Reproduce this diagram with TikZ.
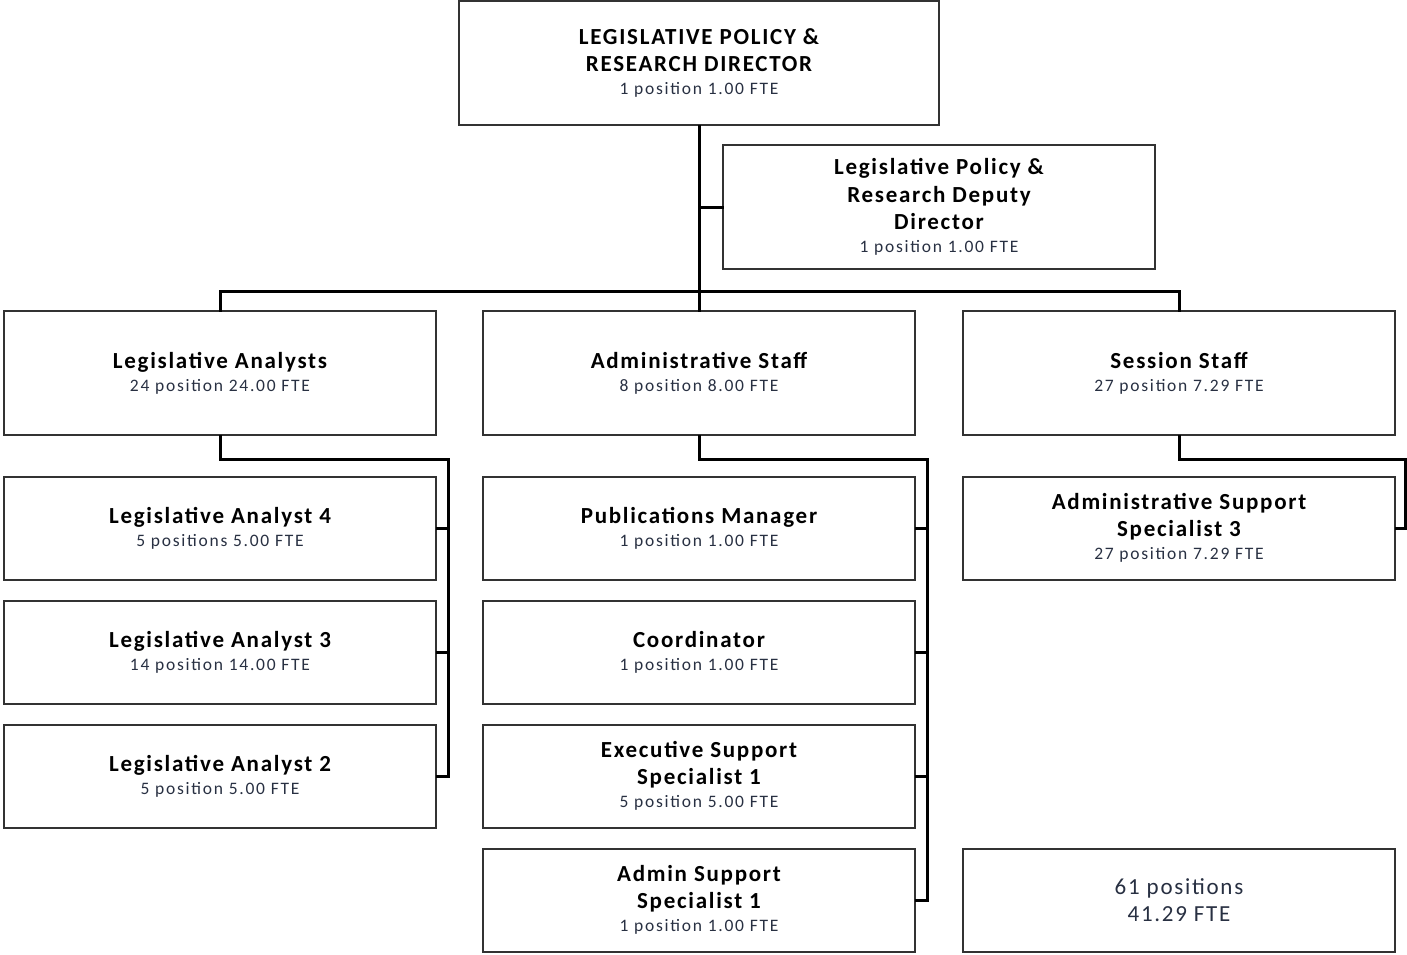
\documentclass[tikz,border=0pt]{standalone}
\usepackage{fontspec}
\setmainfont{Carlito}[LetterSpace=7.5]
\definecolor{subcol}{RGB}{40,48,66}
\definecolor{boxcol}{RGB}{50,50,50}
\tikzset{
  box/.style={draw=boxcol, line width=2pt, fill=white, inner sep=0pt, align=center,
    minimum width=432pt, minimum height=124pt, font=\fontsize{23}{27.5}\selectfont},
  sbox/.style={box, minimum height=103pt},
  conn/.style={draw=black, line width=3pt, line cap=rect},
}
\newcommand{\ttl}[1]{{\bfseries #1}}
\newcommand{\sub}[1]{\\[-4.5pt]{\fontsize{17.5}{24}\selectfont\addfontfeature{LetterSpace=10}\color{subcol}#1}}
\begin{document}
\begin{tikzpicture}[x=1pt,y=-1pt]
\useasboundingbox (0,0) rectangle (1407,954);
\coordinate (bar) at (699,291);
\coordinate (laR) at (448,459);
\coordinate (asR) at (927,459);
\coordinate (ssR) at (1405,459);
\node[box, minimum width=480pt] (dir) at (699,63) {\ttl{LEGISLATIVE POLICY \&}\\\ttl{RESEARCH DIRECTOR}\sub{1 position 1.00 FTE}};
\node[box] (dep) at (939,207) {\ttl{Legislative Policy \&}\\\ttl{Research Deputy}\\\ttl{Director}\sub{1 position 1.00 FTE}};
\node[box] (la) at (220,373) {\ttl{Legislative Analysts}\sub{24 position 24.00 FTE}};
\node[box] (as) at (699,373) {\ttl{Administrative Staff}\sub{8 position 8.00 FTE}};
\node[box] (ss) at (1179,373) {\ttl{Session Staff}\sub{27 position 7.29 FTE}};
\node[sbox] (la4) at (220,528) {\ttl{Legislative Analyst 4}\sub{5 positions 5.00 FTE}};
\node[sbox] (la3) at (220,652) {\ttl{Legislative Analyst 3}\sub{14 position 14.00 FTE}};
\node[sbox] (la2) at (220,776) {\ttl{Legislative Analyst 2}\sub{5 position 5.00 FTE}};
\node[sbox] (pm) at (699,528) {\ttl{Publications Manager}\sub{1 position 1.00 FTE}};
\node[sbox] (co) at (699,652) {\ttl{Coordinator}\sub{1 position 1.00 FTE}};
\node[sbox] (es) at (699,776) {\ttl{Executive Support}\\\ttl{Specialist 1}\sub{5 position 5.00 FTE}};
\node[sbox] (ad) at (699,900) {\ttl{Admin Support}\\\ttl{Specialist 1}\sub{1 position 1.00 FTE}};
\node[sbox] (ass) at (1179,528) {\ttl{Administrative Support}\\\ttl{Specialist 3}\sub{27 position 7.29 FTE}};
\node[sbox, text=subcol] (tot) at (1179,900) {61 positions\\41.29 FTE};
\draw[conn] (dir.south) -- (bar);
\draw[conn] (dir.south |- dep.west) -- (dep.west);
\draw[conn] (la.north) |- (bar) -| (ss.north);
\draw[conn] (bar) -- (as.north);
\draw[conn] (la.south) |- (laR) |- (la2.east);
\draw[conn] (laR |- la4.east) -- (la4.east);
\draw[conn] (laR |- la3.east) -- (la3.east);
\draw[conn] (as.south) |- (asR) |- (ad.east);
\draw[conn] (asR |- pm.east) -- (pm.east);
\draw[conn] (asR |- co.east) -- (co.east);
\draw[conn] (asR |- es.east) -- (es.east);
\draw[conn] (ss.south) |- (ssR) |- (ass.east);
\end{tikzpicture}
\end{document}
